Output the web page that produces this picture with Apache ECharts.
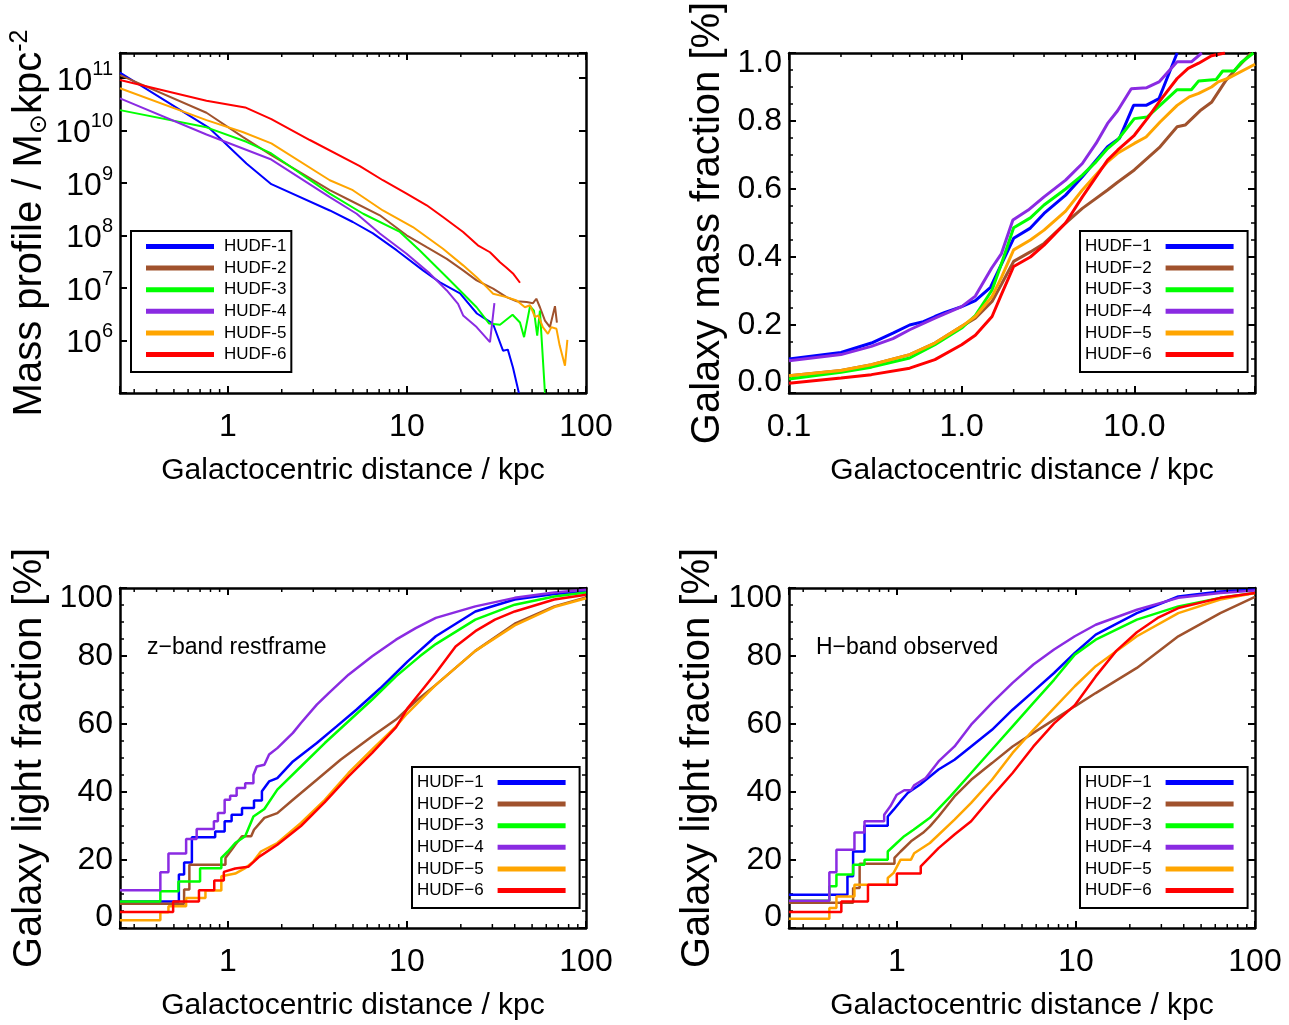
<!DOCTYPE html>
<html><head><meta charset="utf-8">
<script src="https://cdn.jsdelivr.net/npm/echarts@6/dist/echarts.min.js"></script>
<style>html,body{margin:0;padding:0;background:#fff}#c{width:1289px;height:1025px}</style>
</head><body><div id="c"></div><script>
// ---------------- DATA ----------------
const namesHyphen = ['HUDF-1','HUDF-2','HUDF-3','HUDF-4','HUDF-5','HUDF-6'];
const namesMinus = ['HUDF\u22121','HUDF\u22122','HUDF\u22123','HUDF\u22124','HUDF\u22125','HUDF\u22126'];
const seriesColors = ['#0000ff','#a0522d','#00ff00','#8a2be2','#ffa500','#ff0000'];

// Panel 1: mass profile [r (kpc), Msun/kpc^2]
const massHUDF1 = [[0.25,1.27e11],[0.79,1.11e10],[1.27,2.36e9],[1.75,9.5e8],[3.71,3.0e8],[4.99,1.81e8],[6.46,1.10e8],[8.79,5.2e7],[12.3,2.17e7],[15.3,1.28e7],[19.8,7.9e6],[24.6,3.27e6],[26.6,2.75e6],[30.2,2.11e6],[34.4,6.4e5],[36.6,6.7e5],[39.1,3.05e5],[42.2,1.0e5]];
const massHUDF2 = [[0.25,1.14e11],[0.76,2.18e10],[1.21,7.6e9],[1.75,3.4e9],[3.71,7.3e8],[4.80,4.7e8],[7.06,2.43e8],[9.96,1.01e8],[12.9,6.0e7],[16.7,3.6e7],[20.6,2.17e7],[24.5,1.4e7],[30.3,9.7e6],[36.0,6.7e6],[41.0,5.6e6],[46.6,5.4e6],[50.6,5.15e6],[52.8,6.25e6],[55.3,4.3e6],[59.0,2.4e6],[62.9,1.8e6],[67.1,4.5e6],[68.8,2.2e6]];
const massHUDF3 = [[0.25,2.45e10],[0.76,1.15e10],[1.27,6.1e9],[1.75,3.66e9],[3.71,6.3e8],[5.70,2.6e8],[9.14,1.17e8],[11.8,5.2e7],[16.7,1.6e7],[24.5,4.3e6],[28.8,2.1e6],[33.1,2.0e6],[38.9,3.1e6],[42.8,2.2e6],[45.1,1.16e6],[48.7,4.5e6],[51.2,3.7e6],[53.4,1.24e6],[55.3,3.7e6],[59.0,1.0e5]];
const massHUDF4 = [[0.25,4.1e10],[0.76,8.4e9],[1.75,2.8e9],[3.71,5.4e8],[5.24,2.6e8],[7.06,1.09e8],[9.96,4.5e7],[13.4,1.9e7],[16.7,9.0e6],[19.3,5.0e6],[20.6,3.0e6],[24.5,1.8e6],[29.1,9.3e5],[30.8,5.15e6]];
const massHUDF5 = [[0.25,6.4e10],[0.76,1.58e10],[1.21,9.4e9],[1.75,5.7e9],[3.71,1.13e9],[4.99,7.3e8],[7.34,3.0e8],[10.8,1.45e8],[15.9,5.6e7],[20.6,2.7e7],[24.5,1.6e7],[27.9,1.04e7],[30.3,7.8e6],[36.0,6.7e6],[41.0,5.8e6],[45.6,4.3e6],[48.7,4.7e6],[51.9,2.8e6],[54.2,3.0e6],[57.4,1.8e6],[61.3,1.34e6],[64.0,1.8e6],[68.4,1.67e6],[71.3,8.0e5],[76.3,3.3e5],[78.7,1.03e6]];
const massHUDF6 = [[0.25,9.2e10],[0.76,3.7e10],[1.25,2.76e10],[1.75,1.65e10],[2.87,6.6e9],[5.46,2.1e9],[7.34,1.13e9],[9.96,6.3e8],[12.9,3.77e8],[15.9,2.25e8],[20.6,1.17e8],[24.9,6.5e7],[29.1,4.8e7],[33.1,3.1e7],[36.0,2.44e7],[39.1,1.9e7],[42.8,1.26e7]];

// Panel 2: cumulative mass fraction
const fracHUDF1 = [[0.1,0.100],[0.2,0.119],[0.3,0.147],[0.4,0.176],[0.5,0.200],[0.6,0.210],[0.7,0.225],[0.8,0.237],[1.0,0.254],[1.2,0.272],[1.47,0.311],[2.0,0.455],[2.5,0.485],[3.0,0.528],[4.0,0.582],[5.0,0.636],[7.0,0.724],[8.2,0.749],[9.9,0.846],[11.7,0.846],[13.9,0.866],[17.7,1.0]];
const fracHUDF2 = [[0.1,0.051],[0.2,0.066],[0.3,0.083],[0.5,0.113],[0.7,0.147],[1.0,0.196],[1.2,0.22],[1.5,0.269],[1.7,0.32],[2.0,0.387],[2.5,0.415],[3.0,0.44],[4.0,0.50],[5.0,0.543],[7.0,0.597],[8.0,0.62],[10.0,0.656],[14.1,0.724],[17.7,0.783],[19.7,0.788],[24.0,0.83],[28.0,0.855],[34.0,0.92],[40.0,0.96],[47.5,1.0]];
const fracHUDF3 = [[0.1,0.041],[0.2,0.061],[0.3,0.076],[0.5,0.103],[0.7,0.142],[1.0,0.191],[1.2,0.228],[1.5,0.303],[1.7,0.38],[2.0,0.486],[2.5,0.515],[3.0,0.553],[4.0,0.600],[5.0,0.641],[6.0,0.680],[7.0,0.719],[8.0,0.744],[10.0,0.807],[11.9,0.812],[14.1,0.846],[17.7,0.892],[21.4,0.892],[23.6,0.918],[29.8,0.922],[32.5,0.947],[37.8,0.947],[41.6,0.972],[49.0,1.0]];
const fracHUDF4 = [[0.1,0.095],[0.2,0.113],[0.3,0.137],[0.4,0.160],[0.5,0.186],[0.7,0.220],[1.0,0.254],[1.2,0.285],[1.49,0.367],[1.70,0.41],[1.98,0.509],[2.43,0.538],[3.0,0.577],[4.0,0.626],[5.0,0.675],[6.0,0.734],[7.0,0.793],[8.0,0.830],[9.6,0.895],[11.8,0.898],[13.9,0.915],[17.7,0.974],[21.4,0.974],[24.6,1.0]];
const fracHUDF5 = [[0.1,0.051],[0.2,0.066],[0.3,0.083],[0.5,0.113],[0.7,0.147],[1.0,0.196],[1.2,0.225],[1.5,0.284],[1.7,0.34],[2.0,0.421],[2.5,0.45],[3.0,0.479],[4.0,0.535],[5.0,0.597],[7.0,0.680],[8.0,0.705],[10.0,0.734],[11.7,0.753],[14.1,0.797],[17.7,0.846],[20.8,0.871],[23.6,0.881],[28.0,0.90],[30.6,0.915],[35.1,0.926],[50.0,0.967]];
const fracHUDF6 = [[0.1,0.029],[0.2,0.044],[0.3,0.054],[0.5,0.073],[0.7,0.098],[1.0,0.142],[1.2,0.17],[1.5,0.225],[1.7,0.29],[2.0,0.372],[2.5,0.40],[3.0,0.435],[4.0,0.50],[5.0,0.577],[7.0,0.685],[8.0,0.714],[10.0,0.758],[12.0,0.81],[14.1,0.86],[17.7,0.925],[20.5,0.955],[23.6,0.97],[28.0,0.992],[33.5,1.0]];

// Panel 3: z-band restframe light fraction [%]
const zHUDF1 = [[0.25,7.8],[0.533,7.8],[0.533,15.7],[0.57,15.7],[0.57,19.3],[0.63,19.3],[0.63,26.7],[0.85,26.7],[0.85,28.4],[0.96,28.4],[0.96,31.4],[1.05,31.4],[1.05,33.3],[1.2,33.3],[1.2,35.3],[1.4,35.3],[1.4,37.5],[1.55,37.5],[1.55,40.2],[1.7,43.1],[1.89,44.1],[2.31,49.0],[3.14,54.4],[4.05,59.3],[5.22,64.2],[7.1,70.5],[8.69,75.0],[10.1,78.4],[14.5,85.8],[24.1,93.1],[40,96.6],[66.5,98.2],[100,99.0]];
const zHUDF2 = [[0.25,7.1],[0.57,7.1],[0.57,11.3],[0.61,11.3],[0.61,18.6],[0.97,18.6],[0.97,20.6],[1.05,23],[1.1,24.5],[1.2,27],[1.35,27],[1.4,28.9],[1.6,32.4],[1.89,33.8],[2.31,37.7],[3.14,43.6],[4.26,49.5],[6.4,56.4],[8.69,61.3],[11.2,66.7],[14.5,71.5],[24.1,81.5],[40,89.5],[66.5,94.6],[100,97.2]];
const zHUDF3 = [[0.25,7.8],[0.42,7.8],[0.42,10.8],[0.53,10.8],[0.53,13.7],[0.70,13.7],[0.70,17.6],[0.92,17.6],[0.92,20.6],[1.0,22.5],[1.1,25],[1.25,27],[1.39,32.8],[1.6,35],[1.89,40.7],[2.56,47.5],[3.48,54.4],[4.72,60.8],[6.4,67.2],[8.69,74.0],[11.8,79.9],[14.5,83.5],[24.1,90.7],[40,95.1],[66.5,97.5],[100,98.7]];
const zHUDF4 = [[0.25,11.1],[0.42,11.1],[0.42,16.4],[0.466,16.4],[0.466,21.9],[0.585,21.9],[0.585,26.2],[0.67,26.2],[0.67,29.1],[0.836,29.1],[0.836,31.4],[0.88,31.4],[0.88,33.8],[0.96,33.8],[0.96,37.7],[1.03,37.7],[1.03,38.9],[1.12,38.9],[1.12,41.2],[1.25,41.2],[1.25,42.6],[1.39,42.6],[1.39,45],[1.45,47.5],[1.6,48],[1.7,51],[1.89,52.9],[2.31,57.4],[2.56,60.3],[3.14,65.7],[3.66,69.1],[4.72,74.5],[6.4,79.9],[8.69,84.8],[11.2,88.2],[14.5,91.2],[24.1,94.6],[40,97.1],[66.5,98.7],[100,99.5]];
const zHUDF5 = [[0.25,2.3],[0.42,2.3],[0.42,4.6],[0.466,4.6],[0.466,6.4],[0.585,6.4],[0.585,8.8],[0.75,8.8],[0.75,11],[0.92,11],[0.92,15.2],[1.1,16],[1.25,17.6],[1.39,19.6],[1.53,22.5],[1.89,25],[2.56,30.9],[3.48,37.7],[4.72,45.6],[6.4,52.5],[8.69,59.3],[10,63],[14.5,71.5],[24.1,81.5],[40,89],[66.5,94.4],[100,97.0]];
const zHUDF6 = [[0.25,4.7],[0.495,4.7],[0.495,7.8],[0.69,7.8],[0.69,11.1],[0.84,11.1],[0.84,14],[0.95,14],[0.95,16.5],[1.1,17.5],[1.3,18],[1.5,21],[1.89,24.5],[2.56,30],[3.48,37],[4.72,44.6],[6.4,51.5],[8.69,59],[10.1,64.7],[11.8,69.1],[14.5,75],[18.7,82.8],[24.1,87.3],[31,90.7],[40,93.1],[66.5,96.6],[100,98.0]];

// Panel 4: H-band observed light fraction [%]
const hHUDF1 = [[0.25,9.8],[0.53,9.8],[0.53,15.2],[0.57,15.2],[0.57,22.5],[0.66,22.5],[0.66,30.1],[0.89,30.1],[0.89,32.8],[0.96,34.8],[1.05,37.3],[1.15,39.7],[1.35,42.2],[1.71,46.6],[2.1,49.5],[2.6,53.4],[3.4,58.3],[4.43,64.2],[5.79,69.6],[7.55,75],[9.86,80.9],[12.9,86.3],[21.9,92.6],[37.3,97.5],[64,99],[100,99.5]];
const hHUDF2 = [[0.25,7.4],[0.57,7.4],[0.57,11.8],[0.62,11.8],[0.62,18.9],[0.97,18.9],[0.97,20.6],[1.05,22.5],[1.2,25.5],[1.4,28],[1.53,29.9],[1.71,32.8],[2.1,38.7],[2.6,43.6],[3.4,48.5],[4.43,53.4],[5.79,57.4],[7.55,61.3],[9.86,65.2],[12.9,69.1],[21.9,76.5],[37.3,85.8],[64,92.6],[100,97.4]];
const hHUDF3 = [[0.25,8.0],[0.42,8.0],[0.42,12.3],[0.46,12.3],[0.46,15.7],[0.57,15.7],[0.57,18.6],[0.66,18.6],[0.66,20.1],[0.89,20.1],[0.89,22.5],[1.0,25],[1.1,27],[1.24,28.9],[1.53,32.4],[1.99,38.7],[2.6,45.6],[3.4,52.5],[4.43,59.3],[5.79,66.2],[7.55,73],[9.86,80.4],[12.9,84.8],[21.9,90.7],[37.3,94.6],[64,97.1],[100,98.5]];
const hHUDF4 = [[0.25,8.0],[0.42,8.0],[0.42,16.4],[0.46,16.4],[0.46,23],[0.58,23],[0.58,28.1],[0.66,28.1],[0.66,31.4],[0.85,31.4],[0.85,33.3],[0.92,35.8],[1.0,39.2],[1.1,40.5],[1.2,40.5],[1.25,42],[1.45,44.1],[1.71,49],[2.1,53.4],[2.6,59.8],[3.4,66.2],[4.43,72.1],[5.79,77.5],[7.55,81.9],[9.86,85.8],[12.9,89.2],[21.9,93.6],[37.3,97.1],[64,98.5],[100,99.3]];
const hHUDF5 = [[0.25,2.7],[0.42,2.7],[0.42,5.9],[0.46,5.9],[0.46,9.3],[0.58,9.3],[0.58,12.7],[0.89,12.7],[0.89,14.7],[0.96,16.2],[1.05,20.1],[1.2,20.1],[1.25,22],[1.53,25],[2.1,31.9],[2.6,36.8],[3.4,43.6],[4.43,51.5],[5.79,58.3],[7.55,64.7],[9.86,71.1],[12.9,77],[21.9,85.8],[37.3,92.6],[64,96.6],[100,98.5]];
const hHUDF6 = [[0.25,4.7],[0.49,4.7],[0.49,7.8],[0.69,7.8],[0.69,12.7],[1.0,12.7],[1.0,16.0],[1.36,16.0],[1.36,18.1],[1.71,23.5],[2.1,27.5],[2.6,31.4],[3.4,38.7],[4.43,45.6],[5.79,53.4],[7.55,60.2],[9.86,65.5],[12.9,74],[16.8,81.5],[21.9,87],[28.6,91.2],[37.3,94.1],[64,97.1],[100,98.5]];

// minor tick positions of the logarithmic x axes
const minorTicksWide = [0.3,0.4,0.5,0.6,0.7,0.8,0.9,2,3,4,5,6,7,8,9,20,30,40,50,60,70,80,90];
const minorTicksMass = [0.2,0.3,0.4,0.5,0.6,0.7,0.8,0.9,2,3,4,5,6,7,8,9,20,30,40];

// ---------------- CHART ----------------
const FN = "'Liberation Sans Narrow','Liberation Sans',Arial,sans-serif";
const FR = "'Liberation Sans',Arial,sans-serif";
const TICK_FS = 32;

function isPow10(v){ const l = Math.log10(v); return Math.abs(l - Math.round(l)) < 1e-6; }
function fmtDecade(v){ return isPow10(v) && v >= 1 ? String(Math.round(v)) : ''; }
function fmtDecade1(v){ return isPow10(v) ? Math.pow(10, Math.round(Math.log10(v))).toFixed(1) : ''; }
function fmtMass(v){ const l = Math.round(Math.log10(v)); return (isPow10(v) && l >= 6 && l <= 11) ? '{b|10}{s|' + l + '}' : ''; }
function fmtFrac(v){ if (Math.abs(v-1)<1e-9) return '{t|1.0}'; if (Math.abs(v)<1e-9) return '{d|0.0}'; return v.toFixed(1); }
function fmtPct(v){ if (Math.abs(v-100)<1e-9) return '{t|100}'; if (Math.abs(v)<1e-9) return '{d|0}'; return String(Math.round(v)); }

const labelRichEdge = {
  t: {fontFamily: FN, fontSize: TICK_FS, color: '#000', padding: [20,0,0,0]},
  d: {fontFamily: FN, fontSize: TICK_FS, color: '#000', padding: [0,0,22,0]}
};

const panels = [
  {grid:{left:120, top:53, width:466, height:340}, xMin:0.25, xMax:100, xFmt:fmtDecade,
   yType:'log', yMin:1e5, yMax:3e11, yFmt:fmtMass, yRef:1e8,
   yName:'Mass profile / M{sun|\u2299}kpc{sup|-2}', yGap:68,
   minor:minorTicksWide, names:namesHyphen, lw:2,
   data:[massHUDF1,massHUDF2,massHUDF3,massHUDF4,massHUDF5,massHUDF6],
   legend:{left:131, top:231, align:'left'}},
  {grid:{left:789, top:53, width:466, height:340}, xMin:0.1, xMax:50, xFmt:fmtDecade1,
   yType:'value', yMin:0, yMax:1, yInterval:0.2, yFmt:fmtFrac, yRef:0.5,
   yName:'Galaxy mass fraction [%]', yGap:59,
   minor:minorTicksMass, names:namesMinus, lw:3,
   data:[fracHUDF1,fracHUDF2,fracHUDF3,fracHUDF4,fracHUDF5,fracHUDF6],
   legend:{left:1080, top:231, align:'right'}},
  {grid:{left:120, top:588, width:466, height:340}, xMin:0.25, xMax:100, xFmt:fmtDecade,
   yType:'value', yMin:0, yMax:100, yInterval:20, yFmt:fmtPct, yRef:50,
   yName:'Galaxy light fraction [%]', yGap:68,
   minor:minorTicksWide, names:namesMinus, lw:2.5,
   data:[zHUDF1,zHUDF2,zHUDF3,zHUDF4,zHUDF5,zHUDF6],
   legend:{left:412, top:767, align:'right'}},
  {grid:{left:789, top:588, width:466, height:340}, xMin:0.25, xMax:100, xFmt:fmtDecade,
   yType:'value', yMin:0, yMax:100, yInterval:20, yFmt:fmtPct, yRef:50,
   yName:'Galaxy light fraction [%]', yGap:69,
   minor:minorTicksWide, names:namesMinus, lw:2.5,
   data:[hHUDF1,hHUDF2,hHUDF3,hHUDF4,hHUDF5,hHUDF6],
   legend:{left:1080, top:767, align:'right'}}
];

const option = {animation:false, backgroundColor:'#fff', grid:[], xAxis:[], yAxis:[], series:[], legend:[], graphic:[]};
const axisLine = {show:true, onZero:false, lineStyle:{color:'#000', width:2.5}};
const axisTick = {show:true, inside:true, length:7, lineStyle:{color:'#000', width:2}};

panels.forEach((p, i) => {
  option.grid.push(Object.assign({containLabel:false, outerBoundsMode:'none', show:false}, p.grid));
  const xBase = {gridIndex:i, type:'log', logBase:10, min:p.xMin, max:p.xMax,
    axisLine, axisTick, splitLine:{show:false}, minorTick:{show:false}, minorSplitLine:{show:false}};
  option.xAxis.push(Object.assign({}, xBase, {position:'bottom',
    axisLabel:{show:true, margin:18, formatter:p.xFmt, fontFamily:FN, fontSize:TICK_FS, color:'#000',
      showMinLabel:true, showMaxLabel:true, hideOverlap:false},
    name:'Galactocentric distance / kpc', nameLocation:'middle', nameGap:63, nameMoveOverlap:false,
    nameTextStyle:{fontFamily:FN, fontSize:30, color:'#000'}}));
  option.xAxis.push(Object.assign({}, xBase, {position:'top', axisLabel:{show:false}}));

  const yBase = {gridIndex:i, type:p.yType, min:p.yMin, max:p.yMax, axisLine, axisTick, splitLine:{show:false}};
  if (p.yType === 'value') {
    yBase.interval = p.yInterval;
    yBase.minorTick = {show:true, splitNumber:4, length:4, lineStyle:{color:'#000', width:1.5}};
  } else { yBase.logBase = 10; }
  const rich = p.yType === 'log'
    ? {b:{fontFamily:FN, fontSize:TICK_FS, lineHeight:38, color:'#000', verticalAlign:'bottom'},
       s:{fontFamily:FN, fontSize:20, lineHeight:20, color:'#000', verticalAlign:'top'}}
    : labelRichEdge;
  option.yAxis.push(Object.assign({}, yBase, {position:'left',
    axisLabel:{show:true, margin:7, formatter:p.yFmt, fontFamily:FN, fontSize:TICK_FS, color:'#000',
      showMinLabel:true, showMaxLabel:true, hideOverlap:false, rich},
    name:p.yName, nameLocation:'middle', nameGap:p.yGap, nameMoveOverlap:false,
    nameTextStyle:{fontFamily:FR, fontSize:40, color:'#000', lineHeight:44,
      rich:{sun:{fontFamily:"'DejaVu Sans',sans-serif", fontSize:24, lineHeight:24, color:'#000', verticalAlign:'bottom'},
            sup:{fontFamily:FR, fontSize:25, lineHeight:25, color:'#000', verticalAlign:'top'}}}}));
  option.yAxis.push(Object.assign({}, yBase, {position:'right', axisLabel:{show:false}}));

  p.data.forEach((d, k) => {
    option.series.push({type:'line', name:p.names[k], xAxisIndex:2*i, yAxisIndex:2*i, data:d,
      symbol:'none', showSymbol:false, color:seriesColors[k], clip:true,
      lineStyle:{color:seriesColors[k], width:p.lw}, itemStyle:{color:seriesColors[k]}, z:3});
  });

  option.series.push({type:'custom', xAxisIndex:2*i, yAxisIndex:2*i, silent:true, z:5,
    data:p.minor.filter(v => v > p.xMin && v < p.xMax).map(v => [v, p.yRef]),
    renderItem:(params, api) => {
      const x = api.coord([api.value(0), api.value(1)])[0];
      const cs = params.coordSys; const L = 4;
      return {type:'group', children:[
        {type:'line', shape:{x1:x, y1:cs.y+cs.height, x2:x, y2:cs.y+cs.height-L}, style:{stroke:'#000', lineWidth:1.5}},
        {type:'line', shape:{x1:x, y1:cs.y, x2:x, y2:cs.y+L}, style:{stroke:'#000', lineWidth:1.5}}
      ]};
    }});

  option.legend.push({show:true, orient:'vertical', left:p.legend.left, top:p.legend.top,
    align:p.legend.align, selectedMode:false, data:p.names.map(n => ({name:n, icon:'rect'})),
    itemWidth:68, itemHeight:5, itemGap:1.6,
    padding: p.legend.align === 'left' ? [5.5,5,7.5,15] : [5.5,14,7.5,5],
    borderColor:'#000', borderWidth:2, backgroundColor:'#fff', z:10,
    textStyle:{fontFamily:FN, fontSize:17, lineHeight:20, color:'#000',
      padding: p.legend.align === 'left' ? [0,0,0,5] : [0,9,0,0]}});
});

option.graphic = [
  {type:'text', left:147, top:636, z:20, style:{text:'z\u2212band restframe', font:"23px 'Liberation Sans Narrow','Liberation Sans',Arial", fill:'#000'}},
  {type:'text', left:816, top:636, z:20, style:{text:'H\u2212band observed', font:"23px 'Liberation Sans Narrow','Liberation Sans',Arial", fill:'#000'}}
];

const chart = echarts.init(document.getElementById('c'), null, {renderer:'canvas'});
chart.setOption(option);
</script></body></html>
